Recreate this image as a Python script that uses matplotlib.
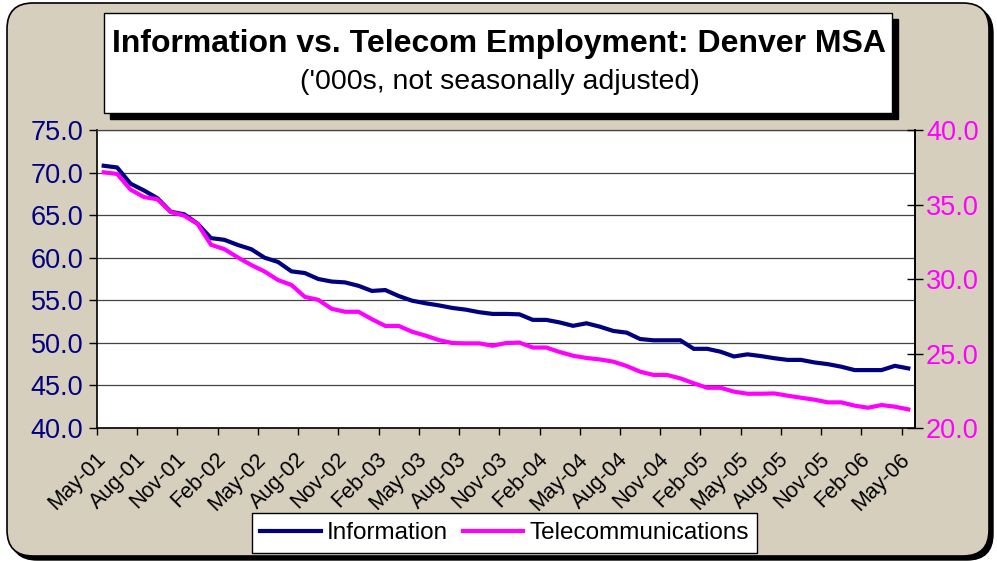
import matplotlib
matplotlib.use("Agg")
import matplotlib.pyplot as plt
import numpy as np
from matplotlib.patches import FancyBboxPatch, Rectangle
from matplotlib.transforms import IdentityTransform, ScaledTranslation

plt.rcParams['font.family'] = ['Liberation Sans', 'DejaVu Sans']

# ---- data ('000s, monthly May-01 .. May-06) ----
tick_labels = ["May-01", "Aug-01", "Nov-01", "Feb-02", "May-02", "Aug-02", "Nov-02",
               "Feb-03", "May-03", "Aug-03", "Nov-03", "Feb-04", "May-04", "Aug-04",
               "Nov-04", "Feb-05", "May-05", "Aug-05", "Nov-05", "Feb-06", "May-06"]

information = [70.8, 70.6, 68.7, 67.9, 67.0, 65.4, 65.1, 64.0, 62.3, 62.1,
               61.5, 61.0, 60.0, 59.5, 58.4, 58.2, 57.5, 57.2, 57.1, 56.7,
               56.1, 56.2, 55.5, 54.95, 54.65, 54.4, 54.1, 53.9, 53.6, 53.4,
               53.4, 53.35, 52.7, 52.7, 52.4, 52.0, 52.3, 51.9, 51.4, 51.2,
               50.45, 50.3, 50.3, 50.3, 49.3, 49.3, 48.96, 48.4, 48.65, 48.45,
               48.2, 48.0, 48.0, 47.7, 47.5, 47.2, 46.8, 46.8, 46.8, 47.3, 47.0]

telecom = [37.16, 37.05, 36.0, 35.5, 35.35, 34.5, 34.25, 33.7, 32.3, 32.0,
           31.45, 30.94, 30.5, 29.93, 29.6, 28.8, 28.6, 28.0, 27.8, 27.8,
           27.3, 26.85, 26.85, 26.46, 26.2, 25.9, 25.7, 25.68, 25.68, 25.52,
           25.7, 25.73, 25.4, 25.4, 25.1, 24.85, 24.7, 24.6, 24.45, 24.16,
           23.78, 23.56, 23.56, 23.33, 23.0, 22.7, 22.7, 22.44, 22.3, 22.3,
           22.32, 22.17, 22.03, 21.9, 21.72, 21.72, 21.5, 21.36, 21.54, 21.43, 21.25]

left_ticks = [40.0, 45.0, 50.0, 55.0, 60.0, 65.0, 70.0, 75.0]
right_ticks = [20.0, 25.0, 30.0, 35.0, 40.0]

NAVY = "#000080"
MAGENTA = "#FF00FF"
BG = "#d7cfbd"

W, H = 997, 561
fig = plt.figure(figsize=(W / 100, H / 100), dpi=100)
fig.patch.set_facecolor("white")

# outer rounded frame with shadow
shadow = FancyBboxPatch((11, 1), 982, 553, boxstyle="round,pad=0,rounding_size=26",
                        transform=IdentityTransform(), facecolor="black",
                        edgecolor="black", zorder=-3)
frame = FancyBboxPatch((7, 5), 982, 553, boxstyle="round,pad=0,rounding_size=26",
                       transform=IdentityTransform(), facecolor=BG,
                       edgecolor="black", linewidth=1.2, zorder=-2)
fig.patches.extend([shadow, frame])

# title box with shadow
tb_shadow = Rectangle((110, H - 119), 788, 100, transform=IdentityTransform(),
                      facecolor="black", edgecolor="black", zorder=-1)
tb = Rectangle((104, H - 113), 788, 100, transform=IdentityTransform(),
               facecolor="white", edgecolor="black", linewidth=1.0, zorder=-1)
fig.patches.extend([tb_shadow, tb])

fig.text(499 / W, 1 - 44 / H, "Information vs. Telecom Employment: Denver MSA",
         ha="center", va="center", fontsize=23, fontweight="bold", color="black")
fig.text(500 / W, 1 - 82 / H, "('000s, not seasonally adjusted)",
         ha="center", va="center", fontsize=20.5, color="black")

# axes
ax = fig.add_axes([97 / W, 1 - 428 / H, (915 - 97) / W, (428 - 130) / H])
ax.set_facecolor("white")
x = np.arange(len(information))
ax.plot(x, information, color=NAVY, lw=3.0, solid_joinstyle="miter", zorder=3,
        label="Information")
ax.set_ylim(40, 75)
ax.set_xlim(-0.5, len(information) - 0.5)
ax.set_yticks(left_ticks)
ax.set_yticklabels([f"{v:.1f}" for v in left_ticks], color=NAVY, fontsize=19.5)
ax.tick_params(axis="y", direction="out", length=6, width=1, color="black", pad=4)
ax.grid(axis="y", color="#444444", linewidth=0.9)
ax.set_axisbelow(True)

# x ticks: marks between categories every 3 months, labels on categories
ax.set_xticks(np.arange(-0.5, len(information), 3))
ax.set_xticklabels([])
ax.tick_params(axis="x", which="major", direction="out", length=5, width=1, color="black")
ax.set_xticks(np.arange(0, len(information), 3), minor=True)
ax.set_xticklabels(tick_labels, minor=True, rotation=45, ha="right",
                   rotation_mode="anchor", fontsize=15.5, color="black")
ax.tick_params(axis="x", which="minor", length=0, pad=15)
offset = ScaledTranslation(-9 / 100, 0, fig.dpi_scale_trans)
for lab in ax.get_xticklabels(minor=True):
    lab.set_transform(lab.get_transform() + offset)

for s in ["left", "bottom", "right"]:
    ax.spines[s].set_color("black")
    ax.spines[s].set_linewidth(1.2)
ax.spines["top"].set_color("#444444")
ax.spines["top"].set_linewidth(0.9)

ax2 = ax.twinx()
ax2.plot(x, telecom, color=MAGENTA, lw=3.0, solid_joinstyle="miter", zorder=3,
         label="Telecommunications")
ax2.set_ylim(20, 40)
ax2.set_yticks(right_ticks)
ax2.set_yticklabels([f"{v:.1f}" for v in right_ticks], color=MAGENTA, fontsize=19.5)
ax2.tick_params(axis="y", direction="inout", length=12, width=1, color="black", pad=2)
ax2.spines["right"].set_color("black")
ax2.spines["right"].set_linewidth(1.2)
ax2.spines["top"].set_visible(False)
ax2.spines["left"].set_visible(False)
ax2.spines["bottom"].set_visible(False)

h1, l1 = ax.get_legend_handles_labels()
h2, l2 = ax2.get_legend_handles_labels()
leg = fig.legend(h1 + h2, l1 + l2, loc="center", bbox_to_anchor=(504.5 / W, 1 - 533 / H),
                 ncol=2, frameon=True, fancybox=False, edgecolor="black",
                 fontsize=17.5, handlelength=2.5, handletextpad=0.25,
                 columnspacing=0.6, borderpad=0.35, borderaxespad=0)
leg.get_frame().set_linewidth(1.0)
leg.get_frame().set_facecolor("white")
leg.get_frame().set_alpha(1)

fig.savefig("out.png", dpi=100, facecolor=fig.get_facecolor())
